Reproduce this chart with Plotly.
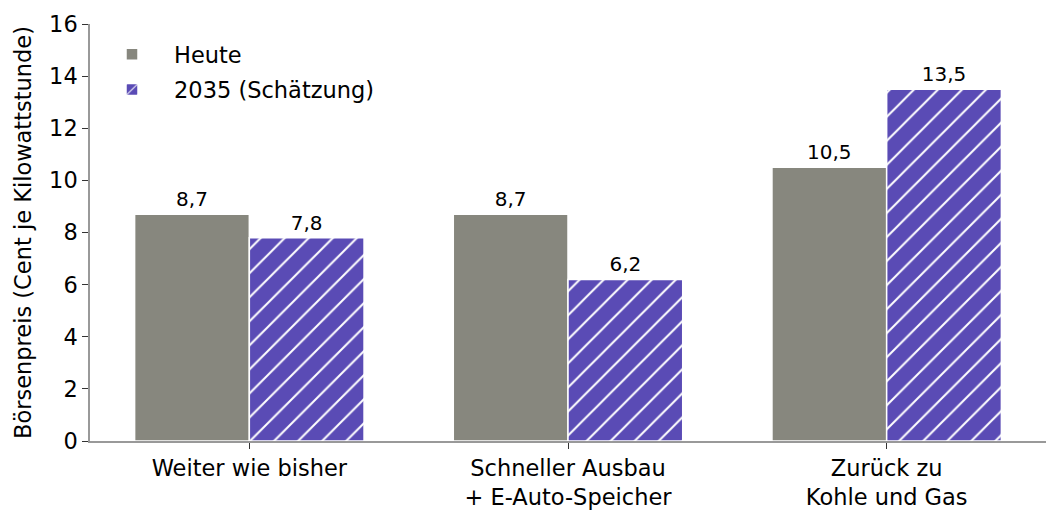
import plotly.graph_objects as go

categories = ['Weiter wie bisher', 'Schneller Ausbau<br>+ E-Auto-Speicher', 'Zurück zu<br>Kohle und Gas']
heute = [8.7, 8.7, 10.5]
schaetzung = [7.8, 6.2, 13.5]
y_ticks = [0, 2, 4, 6, 8, 10, 12, 14, 16]

font = 'DejaVu Sans'


def fmt(v):
    return f'{v:.1f}'.replace('.', ',')


fig = go.Figure()

fig.add_trace(go.Bar(
    name='Heute',
    legendgroup='a',
    x=categories,
    y=heute,
    text=[fmt(v) for v in heute],
    textposition='outside',
    cliponaxis=False,
    textfont=dict(size=20, color='black', family=font),
    marker=dict(color='#87877e', line=dict(color='white', width=1.5)),
))

fig.add_trace(go.Bar(
    name='2035 (Schätzung)',
    legendgroup='b',
    x=categories,
    y=schaetzung,
    text=[fmt(v) for v in schaetzung],
    textposition='outside',
    cliponaxis=False,
    textfont=dict(size=20, color='black', family=font),
    marker=dict(
        color='#5a4bb5',
        line=dict(color='white', width=1.5),
        pattern=dict(shape='/', fgcolor='white', fgopacity=1, size=17, solidity=0.12),
    ),
))

# the page body has an 8px margin, so margins are shifted to compensate
fig.update_layout(
    width=1060,
    height=520,
    margin=dict(l=82, r=22, t=16, b=87),
    plot_bgcolor='white',
    paper_bgcolor='white',
    font=dict(family=font, size=22.5, color='black'),
    barmode='group',
    bargap=0.28,
    bargroupgap=0,
    showlegend=True,
    legend=dict(
        x=0.0, y=0.978, xanchor='left', yanchor='top',
        font=dict(size=22.5), bgcolor='rgba(255,255,255,0)',
        itemwidth=74, traceorder='grouped', tracegroupgap=3,
    ),
    xaxis=dict(
        automargin=False,
        showgrid=False, zeroline=False,
        showline=True, linecolor='#999999', linewidth=1.5,
        ticks='outside', ticklen=6, tickcolor='#333333',
        tickfont=dict(size=22.5),
        range=[-0.5, 2.5],
    ),
    yaxis=dict(
        automargin=False,
        range=[0, 16],
        tickvals=y_ticks,
        showgrid=False, zeroline=False,
        showline=True, linecolor='#999999', linewidth=1.5,
        ticks='outside', ticklen=6, tickcolor='#333333',
        tickfont=dict(size=22.5),
        title=dict(text='Börsenpreis (Cent je Kilowattstunde)', font=dict(size=22.5), standoff=11),
    ),
)

fig.write_html('out.html')
